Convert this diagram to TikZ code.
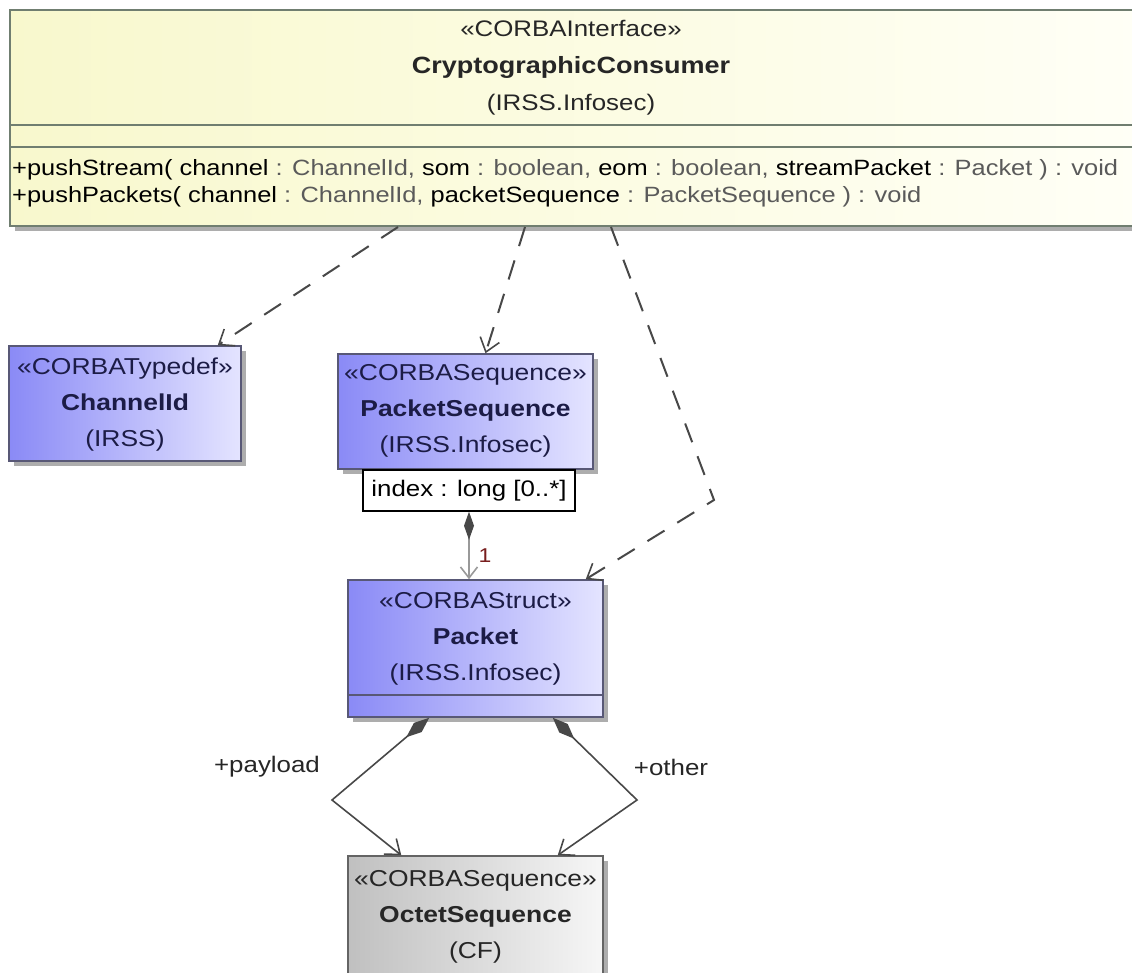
\documentclass[tikz,border=0pt]{standalone}
\usepackage{fontspec}
\setmainfont{Liberation Sans}[FakeStretch=1.15]
\usetikzlibrary{arrows.meta,shadows}

\definecolor{ifaceL}{RGB}{248,248,205}
\definecolor{ifaceR}{RGB}{255,255,246}
\definecolor{ifaceLine}{RGB}{112,126,112}
\definecolor{blueL}{RGB}{138,138,246}
\definecolor{blueR}{RGB}{228,228,255}
\definecolor{blueLine}{RGB}{88,88,118}
\definecolor{blueText}{RGB}{28,28,70}
\definecolor{greyL}{RGB}{192,192,192}
\definecolor{greyR}{RGB}{246,246,246}
\definecolor{greyLine}{RGB}{100,100,100}
\definecolor{wire}{RGB}{72,72,72}
\definecolor{typeGrey}{RGB}{90,90,90}
\definecolor{multRed}{RGB}{120,30,30}

\newcommand{\tp}[1]{\textcolor{typeGrey}{#1}}
\newcommand{\boxfont}{\fontsize{23}{36}\selectfont}

\tikzset{
  umlshadow/.style={drop shadow={shadow xshift=5pt,shadow yshift=-5pt,fill=black!32,opacity=1}},
  ifacebox/.style={draw=ifaceLine,line width=2pt,left color=ifaceL,right color=ifaceR,
    umlshadow,inner sep=0pt},
  bluebox/.style={draw=blueLine,line width=1.5pt,left color=blueL,right color=blueR,
    umlshadow,inner sep=0pt},
  greybox/.style={draw=greyLine,line width=1.5pt,left color=greyL,right color=greyR,
    umlshadow,inner sep=0pt},
  boxtext/.style={align=center,font=\boxfont,text=blueText,inner sep=0pt},
  tagbox/.style={draw=black,line width=1.5pt,fill=white,inner sep=0pt},
  dep/.style={draw=wire,line width=2pt,dash pattern=on 20pt off 15pt,
    -{Straight Barb[length=13pt,width=20pt,line width=1.6pt]}},
  comp/.style={draw=wire,line width=1.6pt,
    {Diamond[length=30pt,width=12pt,fill=wire]}-{Straight Barb[length=13pt,width=20pt]}},
  lightcomp/.style={draw=black!40,line width=1.6pt,
    {Diamond[length=28pt,width=10pt,color=wire,fill=wire]}-{Straight Barb[length=11pt,width=17pt]}},
  rolelabel/.style={font=\fontsize{22.5}{27}\selectfont,text=black!85,inner sep=0pt}
}

\begin{document}
\begin{tikzpicture}[x=1pt,y=-1pt]
\useasboundingbox (0,0) rectangle (1132,972);

% interface class
\node[ifacebox,minimum width=1126pt,minimum height=216pt] (top) at (573,118) {};
\coordinate (sepA) at (0,125);
\coordinate (sepB) at (0,147);
\draw[ifaceLine,line width=2pt] (top.west |- sepA) -- (top.east |- sepA);
\draw[ifaceLine,line width=2pt] (top.west |- sepB) -- (top.east |- sepB);
\node[align=center,inner sep=0pt,text=black!85,font=\fontsize{22.5}{37}\selectfont] (topname) at (571,67.5)
  {«CORBAInterface»\\ {\bfseries\fontsize{23.5}{37}\selectfont CryptographicConsumer}\\(IRSS.Infosec)};
\node[anchor=west,align=left,inner sep=0pt,text=black,font=\fontsize{22.1}{27}\selectfont] (topops) at (12,183.5)
  {+pushStream( channel \tp{: ChannelId,} som \tp{: boolean,} eom \tp{: boolean,} streamPacket \tp{: Packet ) : void}\\
   +pushPackets( channel \tp{: ChannelId,} packetSequence \tp{: PacketSequence ) : void}};

% typedef
\node[bluebox,minimum width=232pt,minimum height=115pt] (chan) at (125,403.5) {};
\node[boxtext] (chant) at (125,405) {«CORBATypedef»\\ \textbf{ChannelId}\\(IRSS)};

% packet sequence with its qualifier
\node[bluebox,minimum width=255pt,minimum height=115pt] (pseq) at (465.5,411.5) {};
\node[boxtext] (pseqt) at (465.5,411) {«CORBASequence»\\ \textbf{PacketSequence}\\(IRSS.Infosec)};
\node[tagbox,minimum width=212pt,minimum height=41pt,font=\fontsize{22.5}{27}\selectfont] (idx) at (469,490.5) {index : long [0..*]};

% packet struct
\node[bluebox,minimum width=255pt,minimum height=137pt] (pkt) at (475.5,648.5) {};
\coordinate (sepC) at (0,695);
\draw[blueLine,line width=1.5pt] (pkt.west |- sepC) -- (pkt.east |- sepC);
\node[boxtext] (pktt) at (475.5,639) {«CORBAStruct»\\ \textbf{Packet}\\(IRSS.Infosec)};

% octet sequence
\node[greybox,minimum width=255pt,minimum height=134pt] (oct) at (475.5,923) {};
\node[boxtext,text=black!85] (octt) at (475.5,916.5) {«CORBASequence»\\ \textbf{OctetSequence}\\(CF)};

% usage dependencies
\draw[dep] ([xshift=389pt]top.south west) -- ([xshift=-24pt]chan.north east);
\draw[dep] ([xshift=516pt]top.south west) -- ([xshift=20pt]pseq.north);
\coordinate (bend) at (714,500);
\draw[dep] ([xshift=602pt]top.south west) -- (bend) -- ([xshift=-18pt]pkt.north east);

% qualified composition
\draw[lightcomp] (idx.south) -- (idx.south |- pkt.north);
\node[text=multRed,font=\fontsize{20}{24}\selectfont,inner sep=0pt] (mult) at (485,556) {1};

% compositions to the octet sequence
\coordinate (bendL) at (332,800);
\coordinate (bendR) at (637,800);
\draw[comp] ([xshift=82pt]pkt.south west) -- (bendL) -- ([xshift=54pt]oct.north west);
\draw[comp] ([xshift=-51pt]pkt.south east) -- (bendR) -- ([xshift=-46pt]oct.north east);
\node[rolelabel] (payload) at (267,767) {+payload};
\node[rolelabel] (other) at (671,767) {+other};
\end{tikzpicture}
\end{document}
